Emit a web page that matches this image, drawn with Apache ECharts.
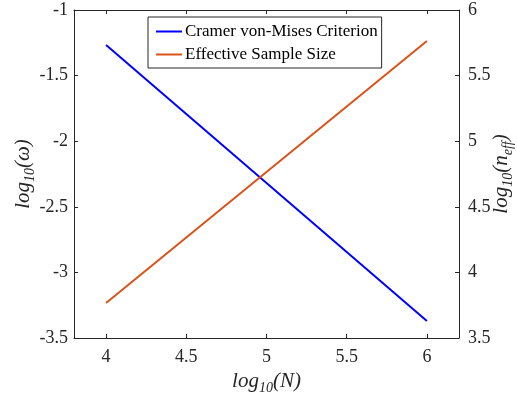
<!DOCTYPE html>
<html>
<head>
    <meta charset="utf-8">
    <style type="text/css">
        html,body { margin: 0px; padding: 0px; height: 100%; background: #fff; }
    </style>
    <script src="https://cdn.jsdelivr.net/npm/echarts@6/dist/echarts.min.js"></script>
</head>
<body>
    <div id="canvas" style="width: 517px; height: 396px;"></div>
    <script type="text/javascript">
        // data
        var xTicks = [4, 4.5, 5, 5.5, 6];
        var logN = [4, 6];
        var cvmValues = [-1.267, -3.37];      // left axis
        var essValues = [3.767, 5.764];       // right axis

        var ink = '#262626';
        var font = 'Liberation Serif';

        function pairs(xs, ys) {
            var out = [];
            for (var i = 0; i < xs.length; i++) out.push([xs[i], ys[i]]);
            return out;
        }

        // rich text for math-ish axis titles
        var mathRich = {
            a: { fontFamily: font, fontStyle: 'italic', fontSize: 21, color: ink, lineHeight: 28 },
            b: { fontFamily: font, fontStyle: 'italic', fontSize: 14, color: ink, lineHeight: 10, verticalAlign: 'bottom' }
        };

        var chart = echarts.init(document.getElementById('canvas'));

        var option = {
            animation: false,
            grid: { left: 74, top: 10, right: 58, bottom: 58, outerBoundsMode: 'none', containLabel: false },
            legend: {
                orient: 'vertical',
                left: 148, top: 17,
                padding: [6, 4, 5, 7],
                itemGap: 6,
                itemWidth: 26, itemHeight: 14,
                itemStyle: { opacity: 0 },
                backgroundColor: '#fff',
                borderColor: ink, borderWidth: 1,
                textStyle: { fontFamily: font, fontSize: 17, color: '#000', padding: [0, 0, 0, -2] },
                data: ['Cramer von-Mises Criterion', 'Effective Sample Size']
            },
            xAxis: [{
                type: 'value', min: 3.8, max: 6.2,
                name: '{a|log}{b|10}{a|(N)}',
                nameLocation: 'middle', nameGap: 29, nameMoveOverlap: false,
                nameTextStyle: { rich: mathRich },
                axisLine: { show: true, lineStyle: { color: ink, width: 1 } },
                axisTick: { show: true, inside: true, length: 4, customValues: xTicks, lineStyle: { color: ink } },
                axisLabel: { customValues: xTicks, margin: 10, fontFamily: font, fontSize: 18, color: ink },
                splitLine: { show: false }
            }, {
                type: 'value', min: 3.8, max: 6.2, position: 'top',
                axisLine: { show: true, lineStyle: { color: ink, width: 1 } },
                axisTick: { show: true, inside: true, length: 4, customValues: xTicks, lineStyle: { color: ink } },
                axisLabel: { show: false },
                splitLine: { show: false }
            }],
            yAxis: [{
                type: 'value', min: -3.5, max: -1, interval: 0.5, position: 'left',
                name: '{a|log}{b|10}{a|(ω)}',
                nameLocation: 'middle', nameGap: 37, nameRotate: 90, nameMoveOverlap: false,
                nameTextStyle: { rich: mathRich },
                axisLine: { show: true, lineStyle: { color: ink, width: 1 } },
                axisTick: { show: true, inside: true, length: 4, lineStyle: { color: ink } },
                axisLabel: { margin: 6, fontFamily: font, fontSize: 18, color: ink },
                splitLine: { show: false }
            }, {
                type: 'value', min: 3.5, max: 6, interval: 0.5, position: 'right',
                name: '{a|log}{b|10}{a|(n}{b|eff}{a|)}',
                nameLocation: 'middle', nameGap: 28, nameRotate: 90, nameMoveOverlap: false,
                nameTextStyle: { rich: mathRich },
                axisLine: { show: true, lineStyle: { color: ink, width: 1 } },
                axisTick: { show: true, inside: true, length: 4, lineStyle: { color: ink } },
                axisLabel: { margin: 9, fontFamily: font, fontSize: 18, color: ink },
                splitLine: { show: false }
            }],
            series: [{
                name: 'Cramer von-Mises Criterion',
                type: 'line', yAxisIndex: 0, xAxisIndex: 0,
                symbol: 'none',
                lineStyle: { color: '#0000ff', width: 2 },
                itemStyle: { color: '#0000ff' },
                data: pairs(logN, cvmValues)
            }, {
                name: 'Effective Sample Size',
                type: 'line', yAxisIndex: 1, xAxisIndex: 0,
                symbol: 'none',
                lineStyle: { color: '#d95319', width: 2 },
                itemStyle: { color: '#d95319' },
                data: pairs(logN, essValues)
            }]
        };

        chart.setOption(option);
    </script>
</body>
</html>
